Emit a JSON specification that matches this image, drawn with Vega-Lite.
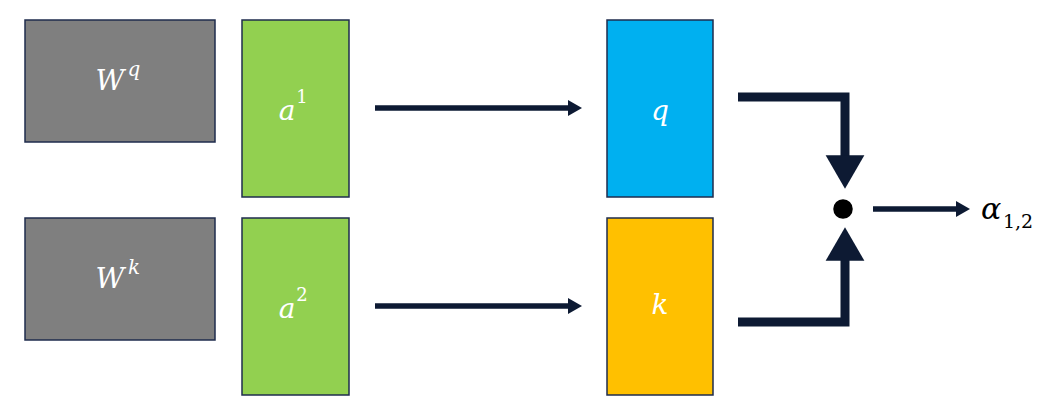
{
  "$schema": "https://vega.github.io/schema/vega-lite/v6.json",
  "width": 1060,
  "height": 410,
  "autosize": {"type": "fit", "contains": "padding"},
  "padding": 0,
  "background": "white",
  "config": {"view": {"stroke": null}},
  "layer": [
    {
      "data": {"values": [
        {"name": "Wq", "x0": 25, "x1": 215, "y0": 20, "y1": 142, "fill": "#7f7f7f"},
        {"name": "Wk", "x0": 25, "x1": 215, "y0": 218, "y1": 340, "fill": "#7f7f7f"},
        {"name": "a1", "x0": 242, "x1": 349, "y0": 20, "y1": 197, "fill": "#92d050"},
        {"name": "a2", "x0": 242, "x1": 349, "y0": 218, "y1": 395, "fill": "#92d050"},
        {"name": "q", "x0": 607, "x1": 713, "y0": 20, "y1": 197, "fill": "#00b0f0"},
        {"name": "k", "x0": 607, "x1": 713, "y0": 218, "y1": 395, "fill": "#ffc000"}
      ]},
      "mark": {"type": "rect", "stroke": "#1f2d4d", "strokeWidth": 1.5},
      "encoding": {
        "x": {"field": "x0", "type": "quantitative", "axis": null, "scale": {"domain": [0, 1060], "nice": false, "zero": false}},
        "x2": {"field": "x1"},
        "y": {"field": "y0", "type": "quantitative", "axis": null, "scale": {"domain": [0, 410], "nice": false, "zero": false, "reverse": true}},
        "y2": {"field": "y1"},
        "color": {"field": "fill", "type": "nominal", "scale": null, "legend": null}
      }
    },
    {
      "data": {"values": [
        {"g": "a1q", "o": 1, "x": 375, "y": 108},
        {"g": "a1q", "o": 2, "x": 572, "y": 108},
        {"g": "a2k", "o": 1, "x": 375, "y": 306},
        {"g": "a2k", "o": 2, "x": 572, "y": 306},
        {"g": "out", "o": 1, "x": 873, "y": 209},
        {"g": "out", "o": 2, "x": 960, "y": 209}
      ]},
      "mark": {"type": "line", "color": "#0d1a33", "strokeWidth": 5.5},
      "encoding": {
        "x": {"field": "x", "type": "quantitative"},
        "y": {"field": "y", "type": "quantitative"},
        "detail": {"field": "g"},
        "order": {"field": "o"}
      }
    },
    {
      "data": {"values": [
        {"g": "q", "o": 1, "x": 738, "y": 97},
        {"g": "q", "o": 2, "x": 845, "y": 97},
        {"g": "q", "o": 3, "x": 845, "y": 165},
        {"g": "k", "o": 1, "x": 738, "y": 322},
        {"g": "k", "o": 2, "x": 845, "y": 322},
        {"g": "k", "o": 3, "x": 845, "y": 253}
      ]},
      "mark": {"type": "line", "color": "#0d1a33", "strokeWidth": 9, "strokeJoin": "miter", "strokeCap": "butt"},
      "encoding": {
        "x": {"field": "x", "type": "quantitative"},
        "y": {"field": "y", "type": "quantitative"},
        "detail": {"field": "g"},
        "order": {"field": "o"}
      }
    },
    {
      "data": {"values": [
        {"x": 575, "y": 108, "s": "triangle-right", "size": 260},
        {"x": 575, "y": 306, "s": "triangle-right", "size": 260},
        {"x": 963, "y": 209, "s": "triangle-right", "size": 260},
        {"x": 845, "y": 172, "s": "triangle-down", "size": 1500},
        {"x": 845, "y": 244, "s": "triangle-up", "size": 1500}
      ]},
      "mark": {"type": "point", "filled": true, "opacity": 1, "color": "#0d1a33"},
      "encoding": {
        "x": {"field": "x", "type": "quantitative"},
        "y": {"field": "y", "type": "quantitative"},
        "shape": {"field": "s", "type": "nominal", "scale": null, "legend": null},
        "size": {"field": "size", "type": "quantitative", "scale": null, "legend": null}
      }
    },
    {
      "data": {"values": [{"x": 843, "y": 209}]},
      "mark": {"type": "point", "filled": true, "opacity": 1, "color": "black", "size": 380, "shape": "circle"},
      "encoding": {
        "x": {"field": "x", "type": "quantitative"},
        "y": {"field": "y", "type": "quantitative"}
      }
    },
    {
      "data": {"values": [
        {"t": "W", "x": 110, "y": 82, "fs": 28, "c": "white"},
        {"t": "q", "x": 134, "y": 70, "fs": 20, "c": "white"},
        {"t": "W", "x": 110, "y": 280, "fs": 28, "c": "white"},
        {"t": "k", "x": 134, "y": 268, "fs": 20, "c": "white"},
        {"t": "a", "x": 287, "y": 112, "fs": 28, "c": "white"},
        {"t": "a", "x": 287, "y": 310, "fs": 28, "c": "white"},
        {"t": "q", "x": 660, "y": 112, "fs": 28, "c": "white"},
        {"t": "k", "x": 660, "y": 306, "fs": 28, "c": "white"},
        {"t": "α", "x": 991, "y": 210, "fs": 30, "c": "black"}
      ]},
      "mark": {"type": "text", "font": "DejaVu Serif", "fontStyle": "italic", "align": "center", "baseline": "middle"},
      "encoding": {
        "x": {"field": "x", "type": "quantitative"},
        "y": {"field": "y", "type": "quantitative"},
        "text": {"field": "t"},
        "size": {"field": "fs", "type": "quantitative", "scale": null, "legend": null},
        "color": {"field": "c", "type": "nominal", "scale": null, "legend": null}
      }
    },
    {
      "data": {"values": [
        {"t": "1", "x": 302, "y": 98, "fs": 18, "c": "white"},
        {"t": "2", "x": 302, "y": 296, "fs": 18, "c": "white"},
        {"t": "1,2", "x": 1018, "y": 222, "fs": 19, "c": "black"}
      ]},
      "mark": {"type": "text", "font": "DejaVu Serif", "align": "center", "baseline": "middle"},
      "encoding": {
        "x": {"field": "x", "type": "quantitative"},
        "y": {"field": "y", "type": "quantitative"},
        "text": {"field": "t"},
        "size": {"field": "fs", "type": "quantitative", "scale": null, "legend": null},
        "color": {"field": "c", "type": "nominal", "scale": null, "legend": null}
      }
    }
  ]
}
